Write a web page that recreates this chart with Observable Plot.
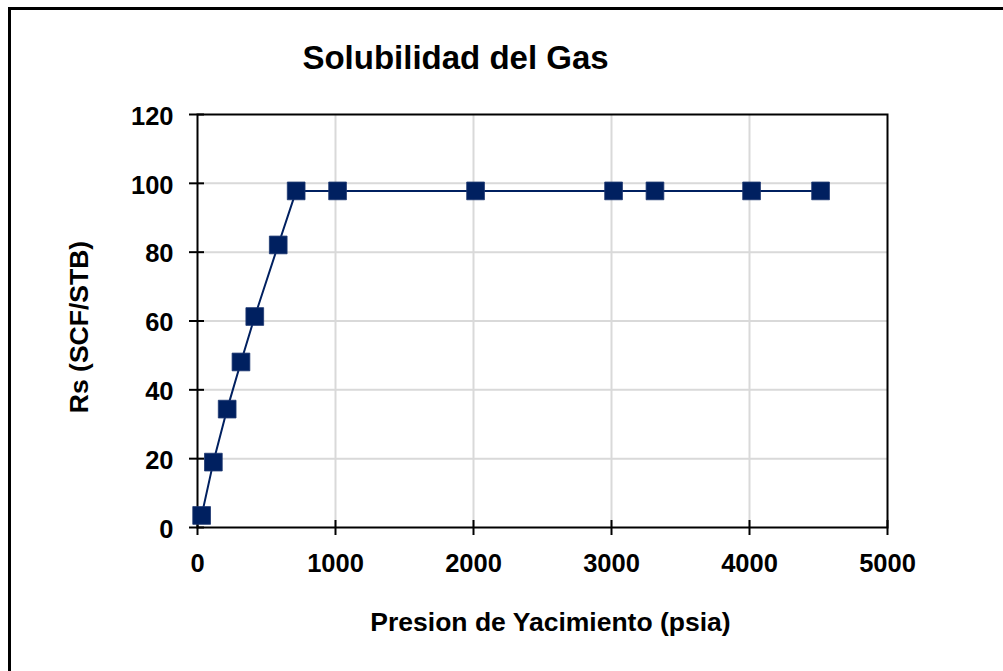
<!DOCTYPE html>
<html>
<head>
<meta charset="utf-8">
<script src="https://cdn.jsdelivr.net/npm/d3@7"></script>
<script src="https://cdn.jsdelivr.net/npm/@observablehq/plot@0.6"></script>
<style>
  html, body { margin: 0; padding: 0; background: #fff; overflow: hidden; }
  #wrap { position: relative; width: 1003px; height: 671px; }
  #border { position: absolute; left: 8px; top: 7px; width: 1100px; height: 800px;
            border: 3px solid #000; pointer-events: none; z-index: 2; }
</style>
</head>
<body>
<div id="wrap"><div id="border"></div></div>
<script>
const pressure = [30, 115, 215, 315, 415, 585, 715, 1015, 2015, 3015, 3315, 4015, 4515];
const rs = [3.5, 19, 34.4, 48.1, 61.3, 82.1, 97.8, 97.8, 97.8, 97.8, 97.8, 97.8, 97.8];
const xTicks = [0, 1000, 2000, 3000, 4000, 5000];
const yTicks = [0, 20, 40, 60, 80, 100, 120];
const titleText = "Solubilidad del Gas";
const xLabel = "Presion de Yacimiento (psia)";
const yLabel = "Rs (SCF/STB)";

const data = pressure.map((p, i) => ({p, rs: rs[i]}));
const navy = "#002060";

const chart = Plot.plot({
  width: 1003,
  height: 671,
  marginLeft: 197,
  marginRight: 116,
  marginTop: 114,
  marginBottom: 144,
  style: {fontFamily: "'Liberation Sans', Arial, sans-serif", fontWeight: "bold", color: "#000", background: "transparent"},
  x: {domain: [0, 5000]},
  y: {domain: [0, 120]},
  marks: [
    Plot.gridX(xTicks.slice(1, -1), {stroke: "#d9d9d9", strokeOpacity: 1, strokeWidth: 2}),
    Plot.gridY(yTicks.slice(1, -1), {stroke: "#d9d9d9", strokeOpacity: 1, strokeWidth: 2}),
    Plot.frame({stroke: "#000", strokeWidth: 2}),
    // crossing ticks
    Plot.axisX({ticks: xTicks, tickSize: 15, dy: -7, text: null, strokeWidth: 2, label: null}),
    Plot.axisY({ticks: yTicks, tickSize: 15, dx: 7, text: null, strokeWidth: 2, label: null}),
    // tick labels
    Plot.axisX({ticks: xTicks, tickSize: 0, tickPadding: 26, fontSize: 25.5, fontWeight: "bold", label: null, tickFormat: d => String(d)}),
    Plot.axisY({ticks: yTicks, tickSize: 0, tickPadding: 24, dy: 2, fontSize: 25.5, fontWeight: "bold", label: null, tickFormat: d => String(d)}),
    Plot.line(data, {x: "p", y: "rs", stroke: navy, strokeWidth: 2}),
    Plot.dot(data, {x: "p", y: "rs", symbol: "square", r: 10, fill: navy, stroke: "#1c3670", strokeWidth: 0.8}),
    Plot.text([titleText], {frameAnchor: "top", lineAnchor: "middle", textAnchor: "middle", dy: -56, dx: -87, fontSize: 33, fontWeight: "bold", fill: "#000"}),
    Plot.text([xLabel], {frameAnchor: "bottom", lineAnchor: "middle", textAnchor: "middle", dy: 95, dx: 8, fontSize: 26.5, fontWeight: "bold", fill: "#000"}),
    Plot.text([yLabel], {frameAnchor: "left", lineAnchor: "middle", textAnchor: "middle", dx: -118, dy: 6, rotate: -90, fontSize: 26.5, fontWeight: "bold", fill: "#000"})
  ]
});
document.getElementById("wrap").appendChild(chart);
chart.style.position = "absolute";
chart.style.left = "0px";
chart.style.top = "0px";
</script>
</body>
</html>
